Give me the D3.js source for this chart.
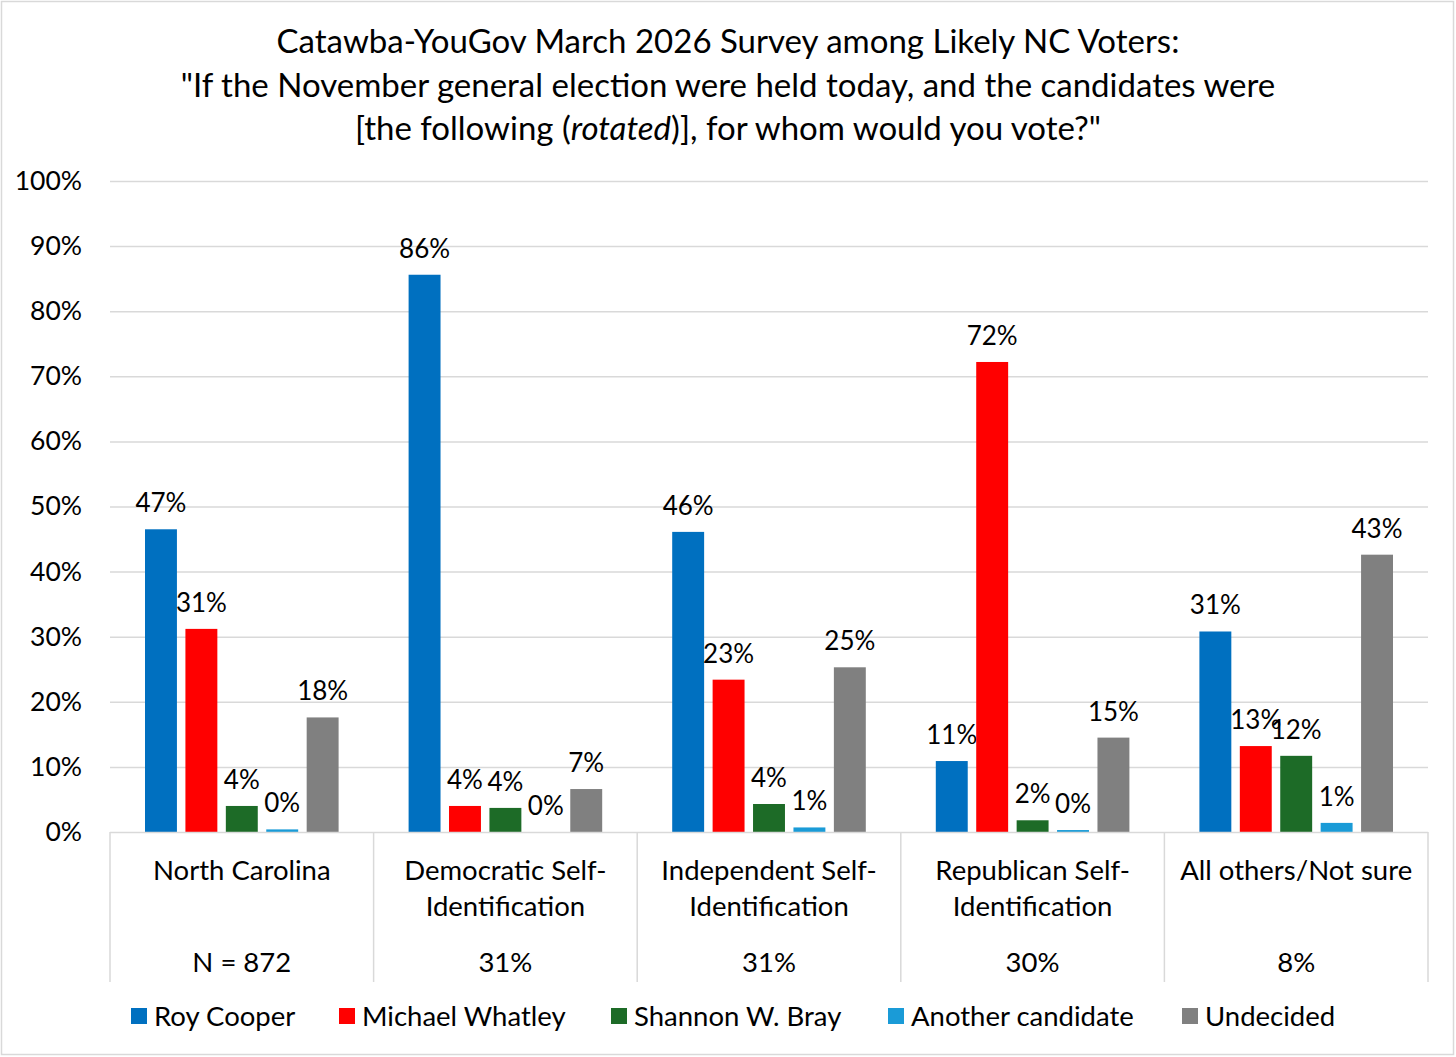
<!DOCTYPE html>
<html>
<head>
<meta charset="utf-8">
<script src="https://cdn.jsdelivr.net/npm/d3@7"></script>
<style>
  html, body { margin: 0; padding: 0; background: #fff; }
  svg { display: block; }
  text { font-family: Lato, "Open Sans", sans-serif; fill: #000; }
</style>
</head>
<body>
<svg id="chart" width="1456" height="1057"></svg>
<script>
// ---- Data ----
const categories = ["North Carolina", "Democratic Self-Identification", "Independent Self-Identification", "Republican Self-Identification", "All others/Not sure"];
const categoryLines = [["North Carolina"], ["Democratic Self-", "Identification"], ["Independent Self-", "Identification"], ["Republican Self-", "Identification"], ["All others/Not sure"]];
const sampleLabels = ["N = 872", "31%", "31%", "30%", "8%"];
const seriesNames = ["Roy Cooper", "Michael Whatley", "Shannon W. Bray", "Another candidate", "Undecided"];
const cooper   = [46.5, 85.6, 46.1, 10.9, 30.8];
const whatley  = [31.2, 4.0, 23.4, 72.2, 13.2];
const bray     = [4.0, 3.7, 4.3, 1.8, 11.7];
const another  = [0.4, 0.0, 0.7, 0.3, 1.4];
const undecided= [17.6, 6.6, 25.3, 14.5, 42.6];
const seriesValues = [cooper, whatley, bray, another, undecided];
const dataLabels = [
  ["47%", "86%", "46%", "11%", "31%"],
  ["31%", "4%", "23%", "72%", "13%"],
  ["4%", "4%", "4%", "2%", "12%"],
  ["0%", "0%", "1%", "0%", "1%"],
  ["18%", "7%", "25%", "15%", "43%"]
];
const yTicks = [0, 10, 20, 30, 40, 50, 60, 70, 80, 90, 100];
const titleLines = [
  "Catawba-YouGov March 2026 Survey among Likely NC Voters:",
  "\"If the November general election were held today, and the candidates were"
];
const colors = ["#0070C0", "#FF0000", "#1D6B27", "#1A9BD7", "#808080"];

// ---- Layout ----
const svg = d3.select("#chart");
const W = 1456, H = 1057;
const plotL = 110, plotR = 1428, plotT = 181, plotB = 832;

svg.append("rect").attr("x", 1.5).attr("y", 1.5).attr("width", W - 4).attr("height", H - 4)
  .attr("fill", "#fff").attr("stroke", "#d9d9d9").attr("stroke-width", 1.5);

const y = d3.scaleLinear().domain([0, 100]).range([plotB, plotT]);
const x0 = d3.scaleBand().domain(categories).range([plotL, plotR]).padding(0);
const bw = x0.bandwidth();
const x1 = d3.scaleBand().domain(seriesNames).range([35, bw - 35]).paddingInner(0.21).paddingOuter(0);

// Title
const title = svg.append("g").attr("font-size", 33).attr("text-anchor", "middle");
titleLines.forEach((t, i) => {
  title.append("text").attr("x", 728).attr("y", 53 + i * 43.5).text(t);
});
const t3 = title.append("text").attr("x", 728).attr("y", 53 + 2 * 43.5);
t3.append("tspan").text("[the following (");
t3.append("tspan").attr("font-style", "italic").text("rotated");
t3.append("tspan").text(")], for whom would you vote?\"");

// Gridlines
svg.append("g").selectAll("line").data(yTicks.filter(d => d > 0)).join("line")
  .attr("x1", plotL).attr("x2", plotR)
  .attr("y1", d => y(d) + 0.5).attr("y2", d => y(d) + 0.5)
  .attr("stroke", "#d9d9d9").attr("stroke-width", 1.5);

// Y axis labels
const yAxis = d3.axisLeft(y).tickValues(yTicks).tickFormat(d => d + "%").tickSize(0).tickPadding(0);
const yg = svg.append("g").attr("transform", `translate(82,0)`).call(yAxis);
yg.select(".domain").remove();
yg.selectAll("text").attr("font-size", 26.5).attr("font-family", "Lato, sans-serif").attr("fill", "#000");

// Bars
const groups = svg.append("g").selectAll("g").data(categories).join("g")
  .attr("transform", d => `translate(${x0(d)},0)`);
seriesNames.forEach((s, si) => {
  groups.append("rect")
    .attr("x", x1(s))
    .attr("width", x1.bandwidth())
    .attr("y", (d, ci) => y(seriesValues[si][ci]))
    .attr("height", (d, ci) => plotB - y(seriesValues[si][ci]))
    .attr("fill", colors[si]);
  groups.append("text")
    .attr("x", x1(s) + x1.bandwidth() / 2)
    .attr("y", (d, ci) => y(seriesValues[si][ci]) - 17)
    .attr("text-anchor", "middle")
    .attr("font-size", 26)
    .text((d, ci) => dataLabels[si][ci]);
});

// Category axis line and separators
svg.append("line").attr("x1", plotL).attr("x2", plotR).attr("y1", plotB + 0.5).attr("y2", plotB + 0.5)
  .attr("stroke", "#d9d9d9").attr("stroke-width", 1.5);
const seps = categories.map(c => x0(c)).concat([plotR]);
svg.append("g").selectAll("line").data(seps).join("line")
  .attr("x1", d => d).attr("x2", d => d)
  .attr("y1", plotB).attr("y2", 982)
  .attr("stroke", "#d9d9d9").attr("stroke-width", 1.5);

// Category labels
const catG = svg.append("g").attr("text-anchor", "middle").attr("font-size", 27.5);
categories.forEach((c, i) => {
  const cx = x0(c) + bw / 2;
  categoryLines[i].forEach((ln, li) => {
    catG.append("text").attr("x", cx).attr("y", 880 + li * 36).text(ln);
  });
  catG.append("text").attr("x", cx).attr("y", 972).text(sampleLabels[i]);
});

// Legend
const legendX = [131, 339, 611, 888, 1182];
const leg = svg.append("g").attr("font-size", 27.5);
seriesNames.forEach((s, i) => {
  leg.append("rect").attr("x", legendX[i]).attr("y", 1008).attr("width", 16).attr("height", 16).attr("fill", colors[i]);
  leg.append("text").attr("x", legendX[i] + 23).attr("y", 1026).text(s);
});
</script>
</body>
</html>
